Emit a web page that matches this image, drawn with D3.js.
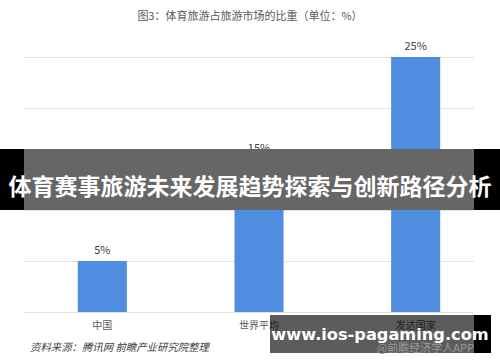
<!DOCTYPE html>
<html>
<head>
<meta charset="utf-8">
<script src="https://cdn.jsdelivr.net/npm/d3@7"></script>
<style>
  body { margin: 0; background: #fff; }
  svg { display: block; }
</style>
</head>
<body>
<svg id="chart" width="500" height="362"></svg>
<script>
// chart data
const categories = ["中国", "世界平均", "发达国家"];
const shares = [5, 15, 25];
const gridTicks = [0, 5, 10, 15, 20, 25];

const title = "图3：体育旅游占旅游市场的比重（单位：%）";
const sourceNote = "资料来源：腾讯网 前瞻产业研究院整理";
const bannerText = "体育赛事旅游未来发展趋势探索与创新路径分析";
const siteText = "www.ios-pagaming.com";
const creditText = "@前瞻经济学人APP";

const FONT = "'Noto Sans CJK SC', 'Noto Sans', sans-serif";
const BAR_COLOR = "#4f8de0";

const svg = d3.select("#chart");

const x = d3.scaleBand()
  .domain(categories)
  .range([24, 494])
  .paddingInner(0.687)
  .paddingOuter(0.3435);

const y = d3.scaleLinear()
  .domain([0, 25])
  .range([312, 57]);

// title
svg.append("text")
  .attr("x", 250)
  .attr("y", 20)
  .attr("text-anchor", "middle")
  .attr("font-family", FONT)
  .attr("font-size", 11)
  .attr("fill", "#595959")
  .text(title);

// gridlines
svg.append("g")
  .selectAll("line")
  .data(gridTicks)
  .enter()
  .append("line")
  .attr("x1", 24)
  .attr("x2", 474)
  .attr("y1", d => y(d) + 0.5)
  .attr("y2", d => y(d) + 0.5)
  .attr("stroke", "#e4e4e4")
  .attr("stroke-width", 1);

// bars
svg.append("g")
  .selectAll("rect")
  .data(shares)
  .enter()
  .append("rect")
  .attr("x", (d, i) => x(categories[i]))
  .attr("y", d => y(d))
  .attr("width", x.bandwidth())
  .attr("height", d => y(0) - y(d))
  .attr("fill", BAR_COLOR);

// value labels
svg.append("g")
  .selectAll("text")
  .data(shares)
  .enter()
  .append("text")
  .attr("x", (d, i) => x(categories[i]) + x.bandwidth() / 2)
  .attr("y", d => y(d) - 7)
  .attr("text-anchor", "middle")
  .attr("font-family", FONT)
  .attr("font-size", 11)
  .attr("fill", "#404040")
  .text(d => d + "%");

// category labels
svg.append("g")
  .selectAll("text")
  .data(categories)
  .enter()
  .append("text")
  .attr("x", d => x(d) + x.bandwidth() / 2)
  .attr("y", 329)
  .attr("text-anchor", "middle")
  .attr("font-family", FONT)
  .attr("font-size", 10)
  .attr("fill", "#595959")
  .text(d => d);

// source note
svg.append("text")
  .attr("x", 30)
  .attr("y", 351)
  .attr("font-family", FONT)
  .attr("font-size", 10.4)
  .attr("font-style", "italic")
  .attr("fill", "#404040")
  .text(sourceNote);

// banner overlay, translucent so the chart shows through
const banner = svg.append("g");
banner.append("rect")
  .attr("x", 0).attr("y", 149)
  .attr("width", 500).attr("height", 61)
  .attr("fill", "#000");
banner.append("rect")
  .attr("x", 24).attr("y", 149)
  .attr("width", 450).attr("height", 61)
  .attr("fill", "#fff");
banner.append("rect")
  .attr("x", 24).attr("y", 149)
  .attr("width", 450).attr("height", 61)
  .attr("fill", "rgba(0,0,0,0.6)");
banner.append("text")
  .attr("x", 250)
  .attr("y", 195)
  .attr("text-anchor", "middle")
  .attr("font-family", FONT)
  .attr("font-size", 23)
  .attr("font-weight", "bold")
  .attr("fill", "#fff")
  .text(bannerText);

// site box bottom right
const site = svg.append("g");
site.append("rect")
  .attr("x", 474).attr("y", 315)
  .attr("width", 17).attr("height", 38)
  .attr("fill", "#000");
site.append("rect")
  .attr("x", 270).attr("y", 315)
  .attr("width", 204).attr("height", 38)
  .attr("fill", "rgba(0,0,0,0.64)");
site.append("text")
  .attr("x", 474)
  .attr("y", 352)
  .attr("text-anchor", "end")
  .attr("font-family", FONT)
  .attr("font-size", 11)
  .attr("fill", "#9a9a9a")
  .text(creditText);
site.append("text")
  .attr("x", 380)
  .attr("y", 340)
  .attr("text-anchor", "middle")
  .attr("font-family", "'DejaVu Sans', sans-serif")
  .attr("font-size", 16.2)
  .attr("font-weight", "bold")
  .attr("fill", "#fff")
  .text(siteText);
</script>
</body>
</html>
